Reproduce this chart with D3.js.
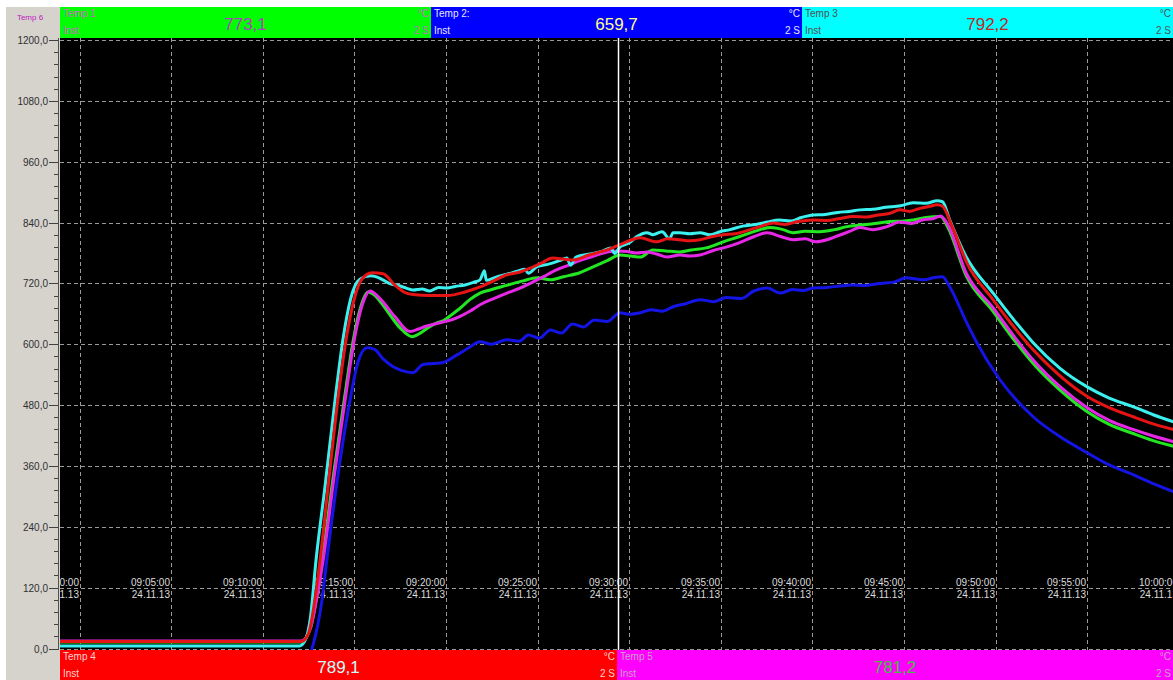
<!DOCTYPE html>
<html>
<head>
<meta charset="utf-8">
<script src="https://cdn.jsdelivr.net/npm/d3@7"></script>
<style>
  html, body { margin: 0; padding: 0; background: #ffffff; }
  svg { display: block; font-family: "Liberation Sans", Arial, sans-serif; }
</style>
</head>
<body>
<svg id="chart" width="1173" height="680"></svg>
<script>
// Recorder trace, 24.11.13 — time in minutes after 09:00:00, temperature in °C
const temp1 = [ // green
  [-1.1,13],[12.1,13],[12.6,40],[13.0,115],[13.25,175],[13.85,340],[14.45,491],[14.95,610],[15.4,680],[15.75,703],
  [16.1,697],[16.5,680],[17.0,655],[17.5,632],[18.15,615],[18.6,622],[19.0,632],[19.5,642],[19.84,646],[20.3,658],
  [20.8,672],[21.3,688],[21.86,701],[22.5,708],[23.3,716],[24.2,725],[24.97,731],[25.7,727],[26.4,733],[27.3,741],
  [28.0,752],[28.8,765],[29.5,776],[30.1,774],[30.6,772],[31.3,786],[32.0,784],[32.77,782],[33.4,786],[34.2,790],
  [35.13,802],[36.0,812],[36.8,822],[37.7,830],[38.4,826],[38.95,820],[39.6,823],[40.4,822],[41.2,826],[41.9,832],
  [42.6,835],[43.4,838],[44.2,842],[45.0,843],[45.5,845],[46.2,850],[47.0,852],[47.4,830],[48.4,735],[49.86,665],
  [51.0,609],[52.05,562],[53.5,510],[55.0,467],[56.2,442],[57.5,424],[58.6,410],[59.8,398]
];
const temp2 = [ // blue
  [-1.1,-10],[12.6,-10],[12.69,0],[13.24,97],[13.5,175],[14.1,340],[14.77,491],[15.2,565],[15.7,593],[16.1,590],
  [16.6,570],[17.1,556],[17.6,548],[18.2,544],[18.75,560],[19.3,562],[19.84,564],[20.6,579],[21.2,592],[21.86,605],
  [22.5,600],[23.33,609],[24.0,606],[24.5,618],[25.1,612],[25.7,628],[26.3,622],[26.9,640],[27.5,634],[28.1,648],
  [28.8,645],[29.5,662],[30.0,659],[30.6,662],[31.2,668],[31.8,665],[32.4,674],[33.1,680],[33.87,688],[34.6,684],
  [35.3,692],[36.1,690],[36.8,705],[37.53,711],[38.24,701],[38.9,708],[39.5,706],[40.04,711],[40.8,712],[41.5,715],
  [42.2,717],[42.9,716],[43.7,720],[44.4,722],[45.14,731],[45.6,729],[46.1,727],[46.6,731],[47.1,733],[47.5,713],
  [48.43,642],[48.98,603],[50.24,530],[52.05,457],[53.5,418],[55.0,386],[56.2,362],[57.5,343],[58.6,325],[59.8,308]
];
const temp3 = [ // cyan
  [-1.1,5],[12.0,5],[12.3,15],[12.6,60],[12.91,175],[13.4,320],[13.95,491],[14.4,615],[14.8,690],[15.3,728],
  [15.9,735],[16.4,730],[16.9,720],[17.5,715],[18.2,707],[18.7,709],[19.1,705],[19.6,712],[20.06,711],[20.5,714],
  [21.04,717],[21.5,722],[21.86,727],[22.1,745],[22.2,726],[22.7,732],[23.33,738],[23.9,744],[24.3,748],[24.5,740],
  [24.97,753],[25.6,758],[26.2,765],[26.6,770],[26.8,756],[27.1,772],[27.86,778],[28.5,783],[29.0,790],[29.2,779],
  [29.5,792],[30.0,800],[30.4,812],[30.97,820],[31.3,816],[31.8,822],[32.2,808],[32.4,820],[32.77,820],[33.3,818],
  [33.87,820],[34.4,816],[34.96,822],[35.5,826],[36.2,833],[36.9,836],[37.53,841],[38.2,845],[38.8,843],[39.4,850],
  [40.04,855],[40.7,856],[41.4,860],[42.0,862],[42.6,865],[43.3,866],[44.0,870],[44.8,873],[45.5,879],[46.2,878],
  [46.81,883],[47.1,881],[47.5,845],[48.4,772],[49.86,701],[51.0,648],[52.05,603],[53.5,553],[55.0,516],[56.2,494],
  [57.5,477],[58.6,461],[59.8,446]
];
const temp4 = [ // red
  [-1.1,14],[12.1,14],[12.5,30],[12.9,110],[13.13,175],[13.6,330],[14.1,491],[14.6,620],[15.0,690],[15.4,728],
  [15.97,741],[16.57,739],[17.2,717],[17.7,703],[18.2,698],[19.1,696],[20.06,696],[21.04,703],[21.86,713],[22.6,725],
  [23.33,737],[24.0,742],[24.6,750],[25.2,760],[25.84,770],[26.4,768],[26.94,766],[27.8,776],[28.8,786],[29.6,798],
  [30.6,810],[31.5,802],[32.1,808],[32.77,806],[33.3,804],[33.87,806],[34.5,812],[35.13,816],[35.8,818],[36.6,826],
  [37.3,834],[37.85,839],[38.5,836],[39.2,842],[40.04,845],[40.8,844],[41.5,848],[42.2,852],[42.98,851],[43.6,855],
  [44.2,858],[44.78,865],[45.3,862],[45.87,868],[46.4,872],[46.81,875],[47.1,872],[47.6,835],[48.44,760],[49.86,688],
  [51.0,634],[52.05,589],[53.5,538],[55.0,497],[56.2,475],[57.5,457],[58.6,443],[59.8,431]
];
const temp5 = [ // magenta
  [-1.1,15],[12.1,15],[12.6,40],[13.0,110],[13.3,175],[13.9,340],[14.5,491],[15.0,610],[15.5,685],[15.86,705],
  [16.4,690],[17.2,655],[18.04,625],[18.5,630],[18.86,635],[19.4,640],[19.84,644],[20.3,648],[20.77,655],[21.3,665],
  [21.86,678],[22.6,690],[23.33,701],[24.0,710],[24.6,720],[25.3,733],[26.06,747],[26.7,756],[27.3,765],[28.0,773],
  [28.8,782],[29.4,784],[29.9,783],[30.4,780],[30.97,782],[31.5,778],[32.07,772],[32.77,776],[33.3,774],[33.87,776],
  [34.6,785],[35.34,792],[36.0,800],[36.8,812],[37.53,820],[38.3,812],[38.95,806],[39.6,808],[40.2,802],[40.8,806],
  [41.4,814],[42.0,822],[42.6,830],[43.3,826],[44.08,832],[44.78,841],[45.4,838],[46.0,845],[46.6,848],[47.0,853],
  [47.4,835],[48.4,740],[49.86,672],[51.0,616],[52.05,569],[53.5,517],[55.0,475],[56.2,450],[57.5,432],[58.6,419],
  [59.8,407]
];

// Channel headers: name, live reading, unit, sample interval
const channelNames = ["Temp 1", "Temp 2:", "Temp 3", "Temp 4", "Temp 5"];
const channelReadings = ["773,1", "659,7", "792,2", "789,1", "781,2"];
const channelMode = "Inst";
const channelUnit = "°C";
const channelRate = "2 S";
const axisChannelName = "Temp 6";

// Scale and time axis
const yTicks = [0, 120, 240, 360, 480, 600, 720, 840, 960, 1080, 1200];
const dateLabel = "24.11.13";
const viewStart = "08:58:56";
const viewEnd = "09:59:41";
const cursorTime = "09:29:23";

// ---- drawing ----
const W = 1173, H = 680;
const plot = { left: 60, right: 1173, top: 39, bottom: 649 };
const svg = d3.select("#chart");
const parseT = d3.timeParse("%H:%M:%S");
const base = parseT("09:00:00");
const atMinute = m => new Date(base.getTime() + m * 60000);

const x = d3.scaleTime()
  .domain([parseT(viewStart), parseT(viewEnd)])
  .range([plot.left, plot.right]);
const y = d3.scaleLinear().domain([0, 1200]).range([648.5, 40]);

// window background: white frame with grey side panel
svg.append("rect").attr("width", W).attr("height", H).attr("fill", "#ffffff");
svg.append("rect").attr("x", 6).attr("y", 7).attr("width", plot.left - 6).attr("height", H - 7).attr("fill", "#d6d3cc");

// plot area
svg.append("rect").attr("x", plot.left).attr("y", 38).attr("width", plot.right - plot.left).attr("height", 650 - 38).attr("fill", "#000000");

const clip = svg.append("defs").append("clipPath").attr("id", "plotClip")
  .append("rect").attr("x", plot.left).attr("y", 38).attr("width", plot.right - plot.left).attr("height", 650 - 38);

const gPlot = svg.append("g").attr("clip-path", "url(#plotClip)");

// grid
const timeTicks = d3.timeMinute.every(5).range(base, atMinute(60.01));
gPlot.append("g").selectAll("line").data(yTicks).join("line")
  .attr("x1", plot.left).attr("x2", plot.right)
  .attr("y1", d => Math.round(y(d)) + 0.5).attr("y2", d => Math.round(y(d)) + 0.5)
  .attr("stroke", "#9a9a9a").attr("stroke-width", 1).attr("stroke-dasharray", "4,3");
gPlot.append("g").selectAll("line").data(timeTicks).join("line")
  .attr("x1", d => Math.round(x(d)) + 0.5).attr("x2", d => Math.round(x(d)) + 0.5)
  .attr("y1", 38).attr("y2", 650)
  .attr("stroke", "#9a9a9a").attr("stroke-width", 1).attr("stroke-dasharray", "4,3");

// time labels sit inside the plot, right-aligned on their grid line
const fmtTime = d3.timeFormat("%H:%M:%S");
const tl = gPlot.append("g").selectAll("g").data(timeTicks).join("g")
  .attr("transform", d => `translate(${Math.round(x(d)) - 1},0)`);
tl.append("text").attr("y", y(120) - 2).attr("text-anchor", "end")
  .attr("font-size", 10).attr("fill", "#dcdcdc").text(d => fmtTime(d));
tl.append("text").attr("y", y(120) + 10).attr("text-anchor", "end")
  .attr("font-size", 10).attr("fill", "#dcdcdc").text(dateLabel);

// traces
const line = d3.line()
  .x(d => x(atMinute(d[0])))
  .y(d => y(d[1]))
  .curve(d3.curveMonotoneX);
const traces = [
  { data: temp2, color: "#1414e6" },
  { data: temp1, color: "#22e622" },
  { data: temp5, color: "#e628e6" },
  { data: temp3, color: "#3cf0f0" },
  { data: temp4, color: "#e61414" }
];
gPlot.append("g").selectAll("path").data(traces).join("path")
  .attr("d", d => line(d.data))
  .attr("fill", "none")
  .attr("stroke", d => d.color)
  .attr("stroke-width", 3)
  .attr("stroke-linejoin", "round");

// cursor
const cx = Math.round(x(parseT(cursorTime))) + 0.5;
gPlot.append("line").attr("x1", cx).attr("x2", cx).attr("y1", 38).attr("y2", 650)
  .attr("stroke", "#ffffff").attr("stroke-width", 1.5);

// y axis on the grey panel
const yAxis = svg.append("g");
yAxis.append("line").attr("x1", 58.5).attr("x2", 58.5).attr("y1", 38).attr("y2", 650)
  .attr("stroke", "#505050").attr("stroke-width", 1);
const minor = d3.range(0, 1201, 24);
yAxis.append("g").selectAll("line").data(minor).join("line")
  .attr("x1", d => (d % 120 === 0 ? 49 : 54)).attr("x2", 58)
  .attr("y1", d => Math.round(y(d)) + 0.5).attr("y2", d => Math.round(y(d)) + 0.5)
  .attr("stroke", "#404040").attr("stroke-width", 1);
const fmtY = d => d3.format(".1f")(d).replace(".", ",");
yAxis.append("g").selectAll("text").data(yTicks).join("text")
  .attr("x", 48).attr("y", d => y(d) + 4).attr("text-anchor", "end")
  .attr("font-size", 10).attr("fill", "#303030").text(fmtY);
svg.append("text").attr("x", 30).attr("y", 20).attr("text-anchor", "middle")
  .attr("font-size", 8).attr("fill", "#c020c0").text(axisChannelName);

// channel header bars
const headers = [
  { i: 0, x0: 60, x1: 431, y0: 7, fill: "#00ff00", small: "#c868c8", big: "#b040c0" },
  { i: 1, x0: 431, x1: 802, y0: 7, fill: "#0000ff", small: "#e8e8ff", big: "#ffff88" },
  { i: 2, x0: 802, x1: 1173, y0: 7, fill: "#00ffff", small: "#505050", big: "#c02828" },
  { i: 3, x0: 60, x1: 617, y0: 650, fill: "#ff0000", small: "#ffd0d0", big: "#c8ffff" },
  { i: 4, x0: 617, x1: 1173, y0: 650, fill: "#ff00ff", small: "#c8a0c8", big: "#40c040" }
];
const hg = svg.append("g").selectAll("g").data(headers).join("g")
  .attr("transform", d => `translate(${d.x0},${d.y0})`);
hg.append("rect").attr("width", d => d.x1 - d.x0).attr("height", d => (d.y0 < 100 ? 31 : 30))
  .attr("fill", d => d.fill);
hg.append("text").attr("x", 3).attr("y", 10).attr("font-size", 10)
  .attr("fill", d => d.small).text(d => channelNames[d.i]);
hg.append("text").attr("x", 3).attr("y", 27).attr("font-size", 10)
  .attr("fill", d => d.small).text(channelMode);
hg.append("text").attr("x", d => d.x1 - d.x0 - 2).attr("y", 10).attr("font-size", 10)
  .attr("text-anchor", "end").attr("fill", d => d.small).text(channelUnit);
hg.append("text").attr("x", d => d.x1 - d.x0 - 2).attr("y", 27).attr("font-size", 10)
  .attr("text-anchor", "end").attr("fill", d => d.small).text(channelRate);
hg.append("text").attr("x", d => (d.x1 - d.x0) / 2).attr("y", 23).attr("font-size", 17)
  .attr("text-anchor", "middle").attr("fill", d => d.big).text(d => channelReadings[d.i]);
</script>
</body>
</html>
